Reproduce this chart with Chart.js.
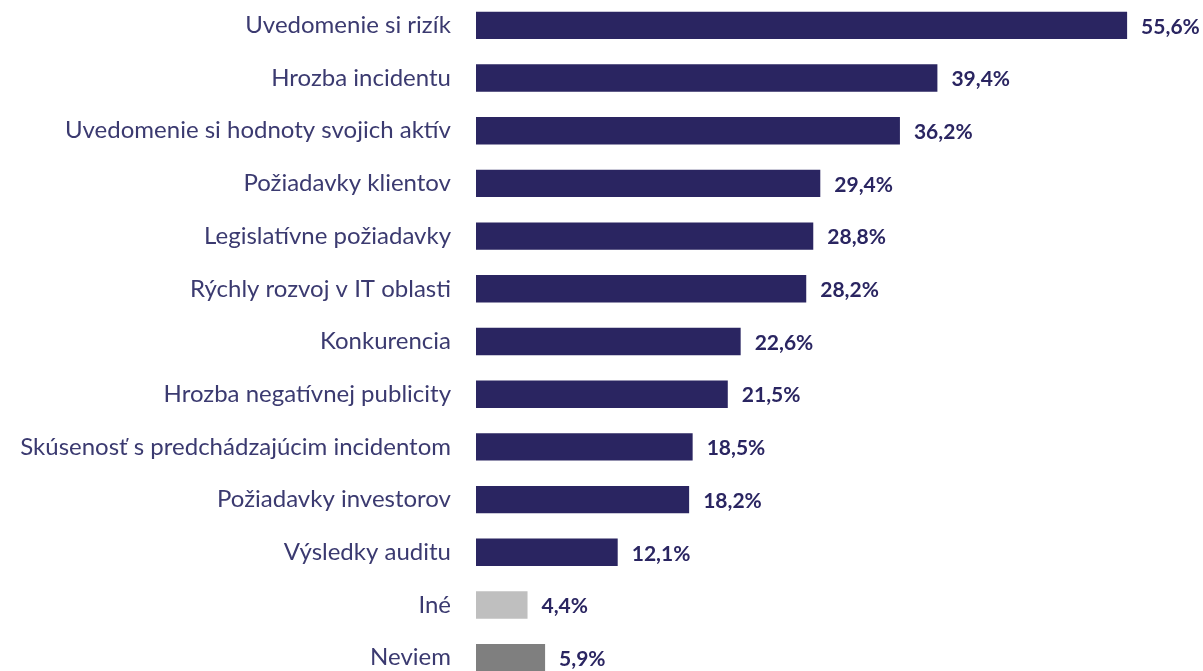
<!DOCTYPE html>
<html>
<head>
<meta charset="utf-8">
<script src="https://cdn.jsdelivr.net/npm/chart.js@4/dist/chart.umd.min.js"></script>
<style>
html,body{margin:0;padding:0;background:#fff;overflow:hidden;}
#wrap{position:absolute;left:0;top:-1px;width:1203px;height:685px;}
</style>
</head>
<body>
<div id="wrap"><canvas id="c" width="1203" height="685"></canvas></div>
<script>
const categories = [
  "Uvedomenie si rizík",
  "Hrozba incidentu",
  "Uvedomenie si hodnoty svojich aktív",
  "Požiadavky klientov",
  "Legislatívne požiadavky",
  "Rýchly rozvoj v IT oblasti",
  "Konkurencia",
  "Hrozba negatívnej publicity",
  "Skúsenosť s predchádzajúcim incidentom",
  "Požiadavky investorov",
  "Výsledky auditu",
  "Iné",
  "Neviem"
];
const values = [55.6, 39.4, 36.2, 29.4, 28.8, 28.2, 22.6, 21.5, 18.5, 18.2, 12.1, 4.4, 5.9];
const barColors = ["#2a2561","#2a2561","#2a2561","#2a2561","#2a2561","#2a2561","#2a2561","#2a2561","#2a2561","#2a2561","#2a2561","#bfbfbf","#7f7f7f"];

const valueLabels = {
  id: 'valueLabels',
  afterDatasetsDraw(chart) {
    const ctx = chart.ctx;
    const meta = chart.getDatasetMeta(0);
    ctx.save();
    ctx.font = 'bold 21px Lato, "Open Sans", sans-serif';
    ctx.fillStyle = '#2a2561';
    ctx.textAlign = 'left';
    ctx.textBaseline = 'middle';
    meta.data.forEach((bar, i) => {
      const txt = values[i].toFixed(1).replace('.', ',') + '%';
      ctx.fillText(txt, bar.x + 14, bar.y + 1.5);
    });
    ctx.restore();
  }
};

new Chart(document.getElementById('c'), {
  type: 'bar',
  data: {
    labels: categories,
    datasets: [{
      data: values,
      backgroundColor: barColors,
      borderWidth: 0,
      barPercentage: 0.52,
      categoryPercentage: 1.0
    }]
  },
  options: {
    indexAxis: 'y',
    responsive: false,
    animation: false,
    layout: { padding: 0 },
    plugins: { legend: { display: false }, tooltip: { enabled: false } },
    scales: {
      x: { display: false, min: 0, max: 62.08 },
      y: {
        grid: { display: false, drawTicks: false },
        border: { display: false },
        afterFit(scale) { scale.width = 476; scale.paddingTop = 0; scale.paddingBottom = 0; },
        ticks: {
          padding: 25,
          color: '#3b3a70',
          font: { family: 'Lato, "Open Sans", sans-serif', size: 24 }
        }
      }
    }
  },
  plugins: [valueLabels]
});
</script>
</body>
</html>
